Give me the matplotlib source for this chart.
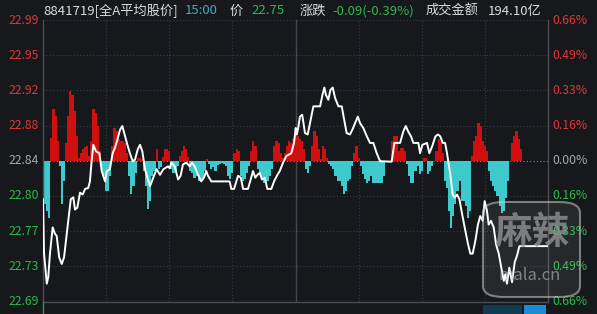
import numpy as np
import matplotlib
matplotlib.use('Agg')
import matplotlib.pyplot as plt
from matplotlib.patches import FancyBboxPatch, Rectangle
from matplotlib.lines import Line2D
import matplotlib.transforms as mtrans

plt.rcParams['font.family'] = ['Noto Sans CJK SC', 'DejaVu Sans']

prev_close = 22.84
last_price = 22.75

price_labels = ['22.69', '22.73', '22.77', '22.80', '22.84', '22.88', '22.92', '22.95', '22.99']
pct_labels = ['0.66%', '0.49%', '0.33%', '0.16%', '0.00%', '0.16%', '0.33%', '0.49%', '0.66%']

# minute index (0..240) and price of the white line
line_t = [0, 0.5, 1.8, 2.5, 3.3, 4.6, 5.7, 6.5, 7.7, 8.9, 10, 10.9, 12, 13.2, 14.4, 15.2, 16.3,
          17.6, 18.9, 20, 21.5, 22.3, 23.1, 23.9, 25.2, 26.8, 27.9, 29.5, 30.3, 31.8, 33.1,
          34.2, 35.3, 36.6, 37.7, 39, 40.1, 41.3, 42.6, 43.7, 45, 46.1, 47.2, 48.5, 49.6,
          50.9, 52.4, 54, 55.6, 57.2, 59.4, 60.2, 61, 62.6, 64.2, 65.4, 66.5, 68.1, 69.7,
          70.8, 72.1, 73.7, 75.2, 76.5, 77.6, 78.4, 80, 84.7, 88.7, 89.5, 90.8, 91.9, 92.7,
          94, 95.1, 97.4, 98.7, 99.8, 100.9, 101.9, 103, 104.1, 105.4, 106.6, 108.5, 109.8,
          111.4, 112.5, 114.1, 115.6, 118, 119.3, 120.1, 120.6, 121.3, 122.1, 123.2, 124.5,
          125.8, 126.9, 128.5, 131.7, 132.8, 133.7, 134.5, 135.6, 136.6, 137.7, 138.8,
          140.4, 142, 142.7, 144.3, 145.9, 147, 148.3, 149.6, 150.7, 152.2, 153.9, 155.4,
          157, 158.6, 160.2, 165.7, 167, 169.7, 171.2, 172.4, 173.6, 174.9, 176, 178.4,
          179.2, 180.3, 182.5, 183.6, 184.9, 186.5, 187.7, 188.8, 190, 191.1, 192, 193.6,
          194.7, 195.7, 196.8, 197.9, 199.2, 200.4, 202, 203.1, 204.2, 205.5, 206.7, 207.8,
          209, 209.9, 211, 211.8, 212.9, 214.2, 215.3, 216.6, 217.8, 219, 219.7, 220.5,
          221.6, 222.9, 224.2, 225.3, 226.4, 240]
line_p = [22.799, 22.741, 22.709, 22.716, 22.741, 22.769, 22.762, 22.760, 22.737, 22.730,
          22.737, 22.755, 22.776, 22.799, 22.801, 22.788, 22.790, 22.806, 22.804, 22.810,
          22.811, 22.818, 22.8395, 22.857, 22.850, 22.848, 22.829, 22.818, 22.829, 22.831,
          22.848, 22.854, 22.862, 22.873, 22.877, 22.866, 22.857, 22.848, 22.8395, 22.841,
          22.852, 22.857, 22.850, 22.831, 22.822, 22.813, 22.822, 22.831, 22.825, 22.831,
          22.834, 22.832, 22.838, 22.834, 22.820, 22.824, 22.836, 22.838, 22.834, 22.838,
          22.834, 22.825, 22.818, 22.822, 22.829, 22.824, 22.818, 22.818, 22.818, 22.810,
          22.810, 22.818, 22.824, 22.822, 22.810, 22.810, 22.820, 22.829, 22.822, 22.825,
          22.827, 22.820, 22.822, 22.810, 22.810, 22.818, 22.825, 22.829, 22.838, 22.845,
          22.848, 22.859, 22.875, 22.868, 22.875, 22.887, 22.889, 22.8695, 22.868, 22.880,
          22.898, 22.898, 22.910, 22.918, 22.910, 22.905, 22.9155, 22.918, 22.907, 22.898,
          22.898, 22.889, 22.8695, 22.868, 22.873, 22.880, 22.887, 22.880, 22.875, 22.866,
          22.859, 22.859, 22.848, 22.8395, 22.839, 22.859, 22.859, 22.871, 22.877, 22.871,
          22.866, 22.859, 22.859, 22.848, 22.857, 22.859, 22.848, 22.855, 22.866, 22.868,
          22.866, 22.859, 22.859, 22.848, 22.825, 22.804, 22.8006, 22.804, 22.799, 22.783,
          22.769, 22.751, 22.741, 22.741, 22.755, 22.772, 22.781, 22.776, 22.797, 22.7865,
          22.772, 22.776, 22.769, 22.751, 22.741, 22.726, 22.712, 22.719, 22.709, 22.726,
          22.7105, 22.732, 22.739, 22.749, 22.749]

# red / cyan bars per minute, drawn up/down from the previous close (relative units)
bar_vals = [-43, -43, -50, -57, 23, 52, 45, 20, -5, -43,
            -20, 18, 45, 70, 66, 50, 25, 3, 8, 12,
            14, 15, 5, 20, 52, 48, 35, 10, -10, -15,
            -30, -30, -15, 15, 33, 30, 22, 20, 20, 18,
            8, -15, -33, -25, -12, 3, 3, 2, -10, -25,
            -48, -40, -15, -10, 12, -8, -6, 4, 12, 12,
            10, -8, -12, -10, -5, 5, 10, 15, 12, 4,
            -10, -12, -17, -15, -20, -20, -18, -10, 2, -3,
            -8, -6, -10, -4, -3, -2, -3, -5, -15, -18,
            -12, 8, 12, 10, -15, -20, -18, -12, -5, 10,
            20, 15, -8, -12, -18, -22, -22, -20, -15, -8,
            15, 20, 18, 8, 3, 8, 15, 20, 18, 22,
            27, 25, 22, 20, 12, -8, -12, -5, 15, 30,
            25, 12, 2, 15, 12, 3, -3, -5, -8, -15,
            -20, -20, -25, -33, -30, -20, -18, -5, 8, 15,
            3, -5, -13, -18, -22, -20, -15, -22, -22, -22,
            -22, -22, -15, 0, 0, 0, 20, 25, 25, 10,
            13, 13, 10, -3, -15, -22, -22, -10, -5, -13,
            -10, 3, 3, -13, -10, -5, 0, 10, 22, 20,
            8, -20, -27, -50, -67, -55, -43, -30, -20, -40,
            -40, -45, -57, -50, 5, 20, 25, 38, 35, 20,
            15, 10, -10, -20, -25, -30, -35, -45, -52, -50,
            -37, -20, 0, 18, 25, 30, 22, 12, 0, 0,
            0, 0, 0, 0, 0, 0, 0, 0, 0, 0, 0]

bg = '#16181c'
red = '#e0363a'
green = '#2db84d'
grey_lbl = '#a8a8a8'
gridc = '#3a3d44'

W, H = 597, 314
fig = plt.figure(figsize=(W / 100, H / 100), dpi=100, facecolor=bg)
ax = fig.add_axes([43 / W, 12.5 / H, 505 / W, 281.5 / H])
ax.set_facecolor(bg)
ax.set_xlim(0, 240)
ax.set_ylim(22.69, 22.99)

levels = np.linspace(22.69, 22.99, 9)
for lv in levels[1:]:
    if abs(lv - prev_close) < 1e-6:
        ax.axhline(lv, color='#7d8894', lw=0.8, ls=(0, (1, 2)), zorder=1)
    else:
        ax.axhline(lv, color=gridc, lw=0.8, ls=(0, (1, 2)), zorder=1)
for m in [30, 60, 90, 150, 180, 210]:
    ax.axvline(m, color=gridc, lw=0.8, ls=(0, (1, 2)), zorder=1)
ax.axvline(120, color='#45484f', lw=1.0, zorder=1)

vals = np.array(bar_vals, dtype=float)
mins = np.arange(len(vals))
cols = np.where(vals > 0, '#d0100f', '#3ec9cc')
ax.bar(mins, vals / 938.0, bottom=prev_close, width=1.02, color=cols, linewidth=0, zorder=2)

ax.plot(line_t, line_p, color='white', lw=1.4, zorder=3)

for s in ['left', 'right', 'bottom']:
    ax.spines[s].set_color('#4a4d54')
    ax.spines[s].set_linewidth(1.0)
ax.spines['top'].set_visible(False)
ax.set_xticks([])
ax.set_yticks([])

tr = mtrans.blended_transform_factory(ax.transAxes, ax.transData)
for i, (lv, pl, cl) in enumerate(zip(levels, price_labels, pct_labels)):
    c = green if i < 4 else (grey_lbl if i == 4 else red)
    ax.text(-4 / 505, lv, pl, transform=tr, ha='right', va='center', fontsize=8.8,
            color=c, clip_on=False)
    ax.text(1 + 4 / 505, lv, cl, transform=tr, ha='left', va='center', fontsize=8.8,
            color=c, clip_on=False)

# header line
hy = 1 - 11 / H
header = [(43, '8841719[全A平均股价]', '#dcdcdc'), (185, '15:00', '#45a9c2'),
          (230, '价', '#dcdcdc'), (251, f'{last_price:.2f}', green),
          (300, '涨跌', '#dcdcdc'), (332, '-0.09(-0.39%)', green),
          (426, '成交金额', '#dcdcdc'), (488, '194.10亿', '#dcdcdc')]
for x, s, c in header:
    fig.text(x / W, hy, s, ha='left', va='center', fontsize=9.5, color=c)

# watermark
box = FancyBboxPatch((483 / W, 1 - 297 / H), 97 / W, 95 / H,
                     boxstyle='round,pad=0,rounding_size=0.035', transform=fig.transFigure,
                     facecolor=(1, 1, 1, 0.07), edgecolor=(0.8, 0.8, 0.8, 0.55), lw=1.5,
                     zorder=5)
fig.patches.append(box)
fig.text(532 / W, 1 - 232 / H, '麻辣', ha='center', va='center', fontsize=27,
         color=(0.6, 0.6, 0.6, 0.75), fontweight='bold', zorder=6)
fig.text(530 / W, 1 - 276 / H, 'mala.cn', ha='center', va='center', fontsize=12,
         color=(0.75, 0.75, 0.75, 0.6), zorder=6)

# bottom widgets
fig.patches.append(Rectangle((483 / W, 0), 39 / W, 9 / H, transform=fig.transFigure,
                             facecolor='#123a52', edgecolor='none'))
fig.patches.append(Rectangle((524 / W, 0), 22 / W, 9 / H, transform=fig.transFigure,
                             facecolor='#1b8bd6', edgecolor='none'))
fig.lines.append(Line2D([43 / W, 43 / W], [0, 12.5 / H], transform=fig.transFigure,
                        color='#2a9a40', lw=1.0))

fig.savefig('out.png', dpi=100, facecolor=bg)
